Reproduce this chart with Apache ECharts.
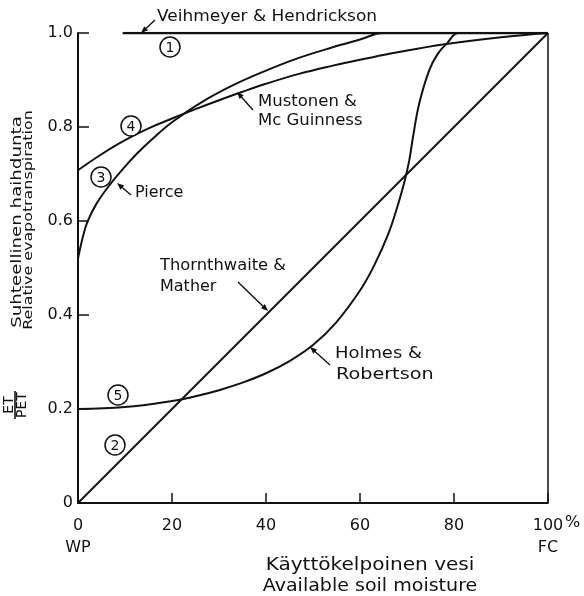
<!DOCTYPE html>
<html>
<head>
<meta charset="utf-8">
<script src="https://cdn.jsdelivr.net/npm/echarts@6/dist/echarts.min.js"></script>
<style>html,body{margin:0;padding:0;background:#fff}#c{width:584px;height:596px}</style>
</head>
<body>
<div id="c"></div>
<script>
// ---- data (x = available soil moisture %, y = ET/PET) ----
const xTickValues = [0, 20, 40, 60, 80, 100];
const yTickValues = [0, 0.2, 0.4, 0.6, 0.8, 1.0];
const veihmeyerX = [9.5, 100];
const veihmeyerY = [1.0, 1.0];
const thornthwaiteX = [0, 100];
const thornthwaiteY = [0, 1.0];
const pierceX = [0, 1, 2, 4, 7, 10, 12.5, 16, 20, 26, 33, 40, 47, 54, 60, 65, 100];
const pierceY = [0.52, 0.565, 0.598, 0.638, 0.68, 0.7155, 0.743, 0.776, 0.81, 0.851, 0.889, 0.92, 0.947, 0.969, 0.986, 1.0, 1.0];
const mustonenX = [0, 5, 10, 15, 20, 25, 30, 35, 40, 47, 54, 61, 68, 78, 90, 100];
const mustonenY = [0.708, 0.742, 0.772, 0.797, 0.818, 0.838, 0.857, 0.875, 0.892, 0.913, 0.93, 0.945, 0.959, 0.976, 0.991, 1.0];
const holmesX = [0, 10, 20, 25, 30, 35, 40, 45, 50, 55, 60, 63, 66, 68, 69.5, 70.5, 71.3, 72.6, 74.7, 76.5, 78.5, 81, 100];
const holmesY = [0.2, 0.204, 0.217, 0.227, 0.24, 0.256, 0.276, 0.302, 0.336, 0.385, 0.452, 0.505, 0.572, 0.632, 0.685, 0.73, 0.78, 0.85, 0.92, 0.955, 0.978, 1.0, 1.0];
const borderX = [100, 100];
const borderY = [0, 1.0];

const zip = (xs, ys) => xs.map((x, i) => [x, ys[i]]);
const FONT = '"DejaVu Sans", sans-serif';
const INK = '#111';

function lineSeries(name, xs, ys, w, smooth) {
  return {
    name, type: 'line', data: zip(xs, ys), showSymbol: false, symbol: 'none',
    smooth: smooth ? 0.4 : false,
    lineStyle: { color: INK, width: w }, silent: true, z: 3
  };
}

function arrow(fx, fy, tx, ty) {
  const dx = tx - fx, dy = ty - fy, L = Math.hypot(dx, dy);
  const ux = dx / L, uy = dy / L, nx = -uy, ny = ux;
  const hl = 7, hw = 2.8;
  return [
    { type: 'line', shape: { x1: fx, y1: fy, x2: tx - ux * 3, y2: ty - uy * 3 }, style: { stroke: INK, lineWidth: 1.4 } },
    { type: 'polygon', shape: { points: [[tx, ty], [tx - ux * hl + nx * hw, ty - uy * hl + ny * hw], [tx - ux * hl - nx * hw, ty - uy * hl - ny * hw]] }, style: { fill: INK } }
  ];
}
function txt(x, y, s, size, align, rot, sx) {
  return {
    type: 'text', x, y, rotation: rot || 0, scaleX: sx || 1, originX: 0, originY: 0,
    style: { text: s, font: (size || 16) + 'px ' + FONT, fill: INK, textAlign: align || 'left', textVerticalAlign: 'middle' }
  };
}
function circled(x, y, s) {
  return [
    { type: 'circle', shape: { cx: x, cy: y, r: 10 }, style: { fill: '#fff', stroke: INK, lineWidth: 1.5 }, z: 10 },
    { type: 'text', x, y: y + 1, z: 11, style: { text: s, font: '14px ' + FONT, fill: INK, textAlign: 'center', textVerticalAlign: 'middle' } }
  ];
}

const chart = echarts.init(document.getElementById('c'), null, { renderer: 'canvas' });
const graphic = [].concat(
  txt(157, 17, 'Veihmeyer & Hendrickson', 16, 'left', 0, 1.06),
  arrow(155, 20, 141, 33),
  txt(258, 102, 'Mustonen &', 16, 'left', 0, 1.03),
  txt(258, 121, 'Mc Guinness', 16, 'left', 0, 1.03),
  arrow(253, 110, 237, 92),
  txt(135, 193, 'Pierce', 16),
  arrow(131, 195, 117, 183),
  txt(160, 266, 'Thornthwaite &', 16, 'left', 0, 1.02),
  txt(160, 287, 'Mather', 16),
  arrow(238, 282, 268, 311),
  txt(335, 354, 'Holmes &', 16, 'left', 0, 1.12),
  txt(336, 375, 'Robertson', 16, 'left', 0, 1.2),
  arrow(330, 365, 310, 347),
  circled(170, 47, '1'),
  circled(131, 126, '4'),
  circled(101, 177, '3'),
  circled(118, 395, '5'),
  circled(115, 445, '2'),
  txt(17, 222, 'Suhteellinen haihdunta', 14, 'center', Math.PI / 2, 1.3),
  txt(29, 220, 'Relative evapotranspiration', 13, 'center', Math.PI / 2, 1.22),
  txt(9, 405, 'ET', 14, 'center', Math.PI / 2),
  [{ type: 'line', shape: { x1: 15, y1: 391, x2: 15, y2: 419 }, style: { stroke: INK, lineWidth: 1.6 } }],
  txt(22, 405, 'PET', 14, 'center', Math.PI / 2),
  txt(565, 523, '%', 16),
  txt(370, 566, 'Käyttökelpoinen vesi', 17, 'center', 0, 1.18),
  txt(370, 587, 'Available soil moisture', 17, 'center', 0, 1.12)
);

chart.setOption({
  backgroundColor: '#fff',
  animation: false,
  grid: { left: 78, right: 36, top: 33, bottom: 93, containLabel: false },
  xAxis: {
    type: 'value', min: 0, max: 100, interval: 20,
    axisLine: { show: true, lineStyle: { color: INK, width: 2 } },
    axisTick: { show: true, inside: true, length: 10, lineStyle: { color: INK, width: 1.5 } },
    splitLine: { show: false },
    axisLabel: {
      color: INK, fontFamily: FONT, fontSize: 16, margin: 12, lineHeight: 22,
      formatter: v => v === 0 ? '0\nWP' : (v === 100 ? '100\nFC' : String(v))
    }
  },
  yAxis: {
    type: 'value', min: 0, max: 1, interval: 0.2,
    axisLine: { show: true, lineStyle: { color: INK, width: 2 } },
    axisTick: { show: true, inside: true, length: 11, lineStyle: { color: INK, width: 1.5 } },
    splitLine: { show: false },
    axisLabel: {
      color: INK, fontFamily: FONT, fontSize: 16, margin: 5,
      formatter: v => v === 0 ? '0' : v.toFixed(1)
    }
  },
  series: [
    lineSeries('Veihmeyer & Hendrickson', veihmeyerX, veihmeyerY, 2.5, false),
    lineSeries('Thornthwaite & Mather', thornthwaiteX, thornthwaiteY, 2, false),
    lineSeries('Pierce', pierceX, pierceY, 2, true),
    lineSeries('Mustonen & McGuinness', mustonenX, mustonenY, 2, true),
    lineSeries('Holmes & Robertson', holmesX, holmesY, 2, true),
    lineSeries('border', borderX, borderY, 1.5, false)
  ],
  graphic
});
</script>
</body>
</html>
